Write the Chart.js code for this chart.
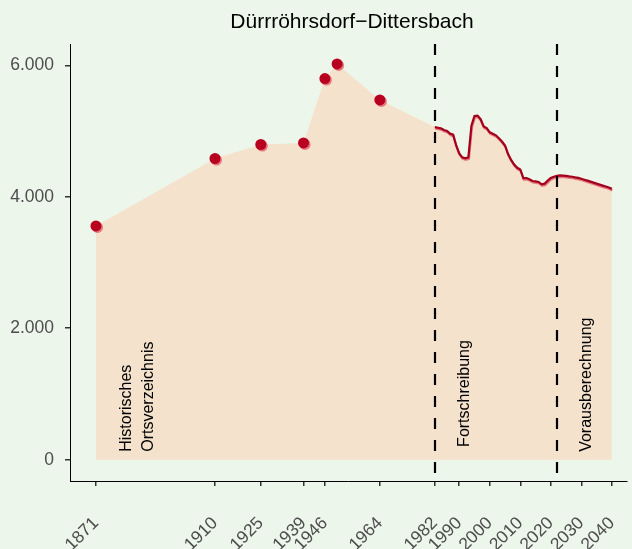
<!DOCTYPE html>
<html>
<head>
<meta charset="utf-8">
<script src="https://cdn.jsdelivr.net/npm/chart.js@4"></script>
<style>
  html, body { margin: 0; padding: 0; background: #edf6eb; overflow: hidden; }
  #wrap { width: 632px; height: 549px; }
</style>
</head>
<body>
<div id="wrap"><canvas id="chart" width="632" height="549"></canvas></div>
<script>
// historical census points (Historisches Ortsverzeichnis)
const histYears = [1871, 1910, 1925, 1939, 1946, 1950, 1964];
const histPop = [3557, 4582, 4795, 4819, 5798, 6020, 5473];

// yearly series: Fortschreibung + Vorausberechnung
const lineYears = [1982, 1983, 1984, 1985, 1986, 1987, 1988, 1989, 1990, 1991,
    1992, 1993, 1994, 1995, 1996, 1997, 1998, 1999, 2000, 2001,
    2002, 2003, 2004, 2005, 2006, 2007, 2008, 2009, 2010, 2011,
    2012, 2013, 2014, 2015, 2016, 2017, 2018, 2019, 2020, 2021,
    2022, 2023, 2024, 2025, 2026, 2027, 2028, 2029, 2030, 2031,
    2032, 2033, 2034, 2035, 2036, 2037, 2038, 2039, 2040];
const linePop = [5060, 5050, 5040, 5015, 5000, 4960, 4945, 4780, 4660, 4600,
    4585, 4600, 5080, 5230, 5235, 5180, 5070, 5045, 4980, 4960,
    4935, 4890, 4840, 4780, 4650, 4560, 4490, 4440, 4415, 4285,
    4285, 4265, 4240, 4235, 4225, 4190, 4200, 4245, 4285, 4305,
    4320, 4325, 4322, 4318, 4310, 4305, 4295, 4288, 4275, 4260,
    4245, 4230, 4215, 4200, 4185, 4170, 4155, 4140, 4120];

const xTicks = [1871, 1910, 1925, 1939, 1946, 1964, 1982, 1990, 2000, 2010, 2020, 2030, 2040];
const yTicks = [0, 2000, 4000, 6000];
const breakYears = [1982, 2022];

const noteText = ['Historisches', 'Ortsverzeichnis', 'Fortschreibung', 'Vorausberechnung'];
const noteYear = [1881, 1888.2, 1991.7, 2031.6];
const noteValue = [120, 120, 195, 120];

const title = 'Dürrröhrsdorf\u2212Dittersbach';
const font = '"Liberation Sans", Arial, sans-serif';

const areaData = histYears.map((y, i) => ({x: y, y: histPop[i]}))
    .concat(lineYears.map((y, i) => ({x: y, y: linePop[i]})));

// little plugin for background, title, dashed breaks and the rotated notes
const extras = {
    id: 'extras',
    beforeDraw(chart) {
        const ctx = chart.ctx;
        ctx.save();
        ctx.fillStyle = '#edf6eb';
        ctx.fillRect(0, 0, chart.width, chart.height);
        ctx.restore();
    },
    beforeDatasetDraw(chart, args) {
        if (args.index < 2) {
            const ctx = chart.ctx;
            ctx.save();
            ctx.shadowColor = 'rgba(226, 100, 112, 0.85)';
            ctx.shadowBlur = 0;
            ctx.shadowOffsetX = args.index == 0 ? 1.5 : 0.5;
            ctx.shadowOffsetY = 1.5;
        }
    },
    afterDatasetDraw(chart, args) {
        if (args.index < 2) chart.ctx.restore();
    },
    afterDatasetsDraw(chart) {
        const ctx = chart.ctx;
        const xs = chart.scales.x, ys = chart.scales.y;
        const area = chart.chartArea;
        ctx.save();
        ctx.strokeStyle = '#000';
        ctx.lineWidth = 2.2;
        ctx.setLineDash([11, 11]);
        breakYears.forEach(yr => {
            const px = Math.round(xs.getPixelForValue(yr));
            ctx.beginPath();
            ctx.moveTo(px, area.top);
            ctx.lineTo(px, area.bottom);
            ctx.stroke();
        });
        ctx.setLineDash([]);
        ctx.fillStyle = '#000';
        ctx.font = '16px ' + font;
        ctx.textAlign = 'left';
        ctx.textBaseline = 'middle';
        noteText.forEach((t, i) => {
            ctx.save();
            ctx.translate(xs.getPixelForValue(noteYear[i]), ys.getPixelForValue(noteValue[i]));
            ctx.rotate(-Math.PI / 2);
            ctx.fillText(t, 0, 0);
            ctx.restore();
        });
        ctx.font = '21px ' + font;
        ctx.textAlign = 'center';
        ctx.fillText(title, 352, 22);
        ctx.restore();
    }
};

const canvas = document.getElementById('chart');
const chart = new Chart(canvas, {
    type: 'line',
    data: {
        datasets: [{
            label: 'Ortsverzeichnis',
            data: histYears.map((y, i) => ({x: y, y: histPop[i]})),
            showLine: false,
            pointRadius: 5.5,
            pointBackgroundColor: '#b8001f',
            pointBorderWidth: 0
        }, {
            label: 'Einwohner',
            data: lineYears.map((y, i) => ({x: y, y: linePop[i]})),
            borderColor: '#a3001d',
            borderWidth: 2.2,
            pointRadius: 0,
            tension: 0
        }, {
            label: 'Fläche',
            data: areaData,
            borderWidth: 0,
            pointRadius: 0,
            backgroundColor: '#f5e2cc',
            fill: {value: 0},
            tension: 0
        }]
    },
    options: {
        responsive: false,
        animation: false,
        layout: {padding: {top: 44, right: 0, left: 0, bottom: 0}},
        plugins: {legend: {display: false}, tooltip: {enabled: false}},
        scales: {
            x: {
                type: 'linear',
                min: 1862.5,
                max: 2044.8,
                afterBuildTicks: s => { s.ticks = xTicks.map(v => ({value: v})); },
                afterFit: s => { s.height = 68; s.paddingLeft = 0; s.paddingRight = 0; },
                border: {display: true, color: '#000', width: 1},
                grid: {drawOnChartArea: false, drawTicks: true, tickLength: 5, tickColor: '#333', lineWidth: 1.5},
                ticks: {
                    autoSkip: false,
                    maxRotation: 45,
                    minRotation: 45,
                    padding: 27,
                    color: '#4d4d4d',
                    font: {family: font, size: 17.5},
                    callback: v => String(v)
                }
            },
            y: {
                min: -324,
                max: 6324,
                afterBuildTicks: s => { s.ticks = yTicks.map(v => ({value: v})); },
                afterFit: s => { s.width = 70; s.paddingTop = 0; s.paddingBottom = 0; },
                border: {display: true, color: '#000', width: 1},
                grid: {drawOnChartArea: false, drawTicks: true, tickLength: 5, tickColor: '#333', lineWidth: 1.5},
                ticks: {
                    padding: 11,
                    color: '#4d4d4d',
                    font: {family: font, size: 17.5},
                    callback: v => v.toLocaleString('de-DE')
                }
            }
        }
    },
    plugins: [extras]
});
</script>
</body>
</html>
